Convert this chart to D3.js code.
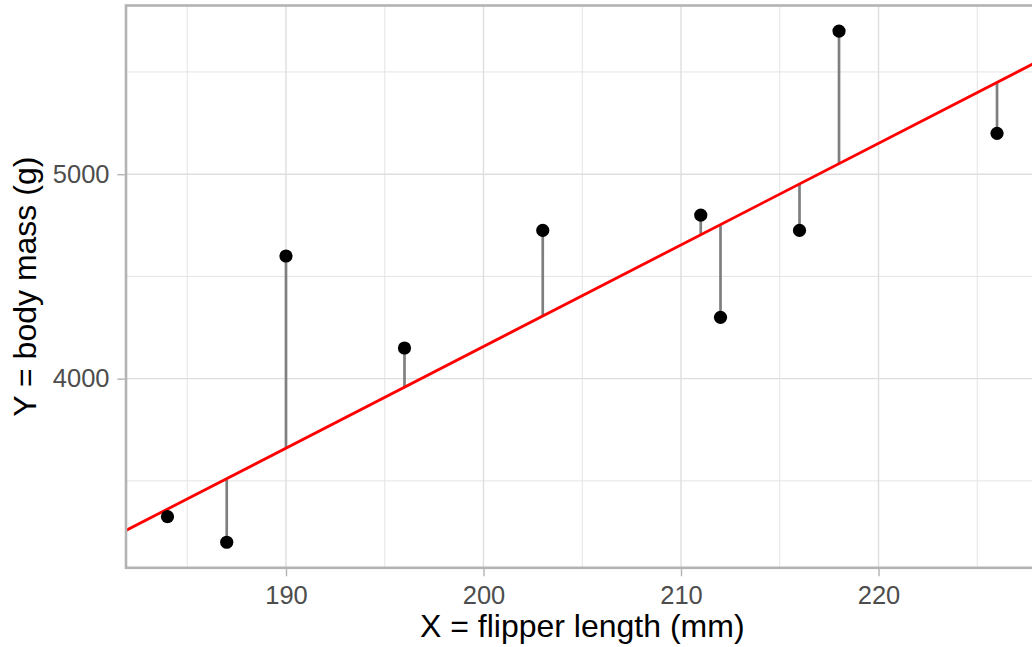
<!DOCTYPE html>
<html>
<head>
<meta charset="utf-8">
<script src="https://cdn.jsdelivr.net/npm/d3@7"></script>
<style>
  html, body { margin: 0; padding: 0; background: #ffffff; }
  svg { display: block; font-family: "Liberation Sans", Arial, Helvetica, sans-serif; }
</style>
</head>
<body>
<svg id="chart" width="1032" height="647"></svg>
<script>
// Penguin sample: flipper length (mm) vs body mass (g)
const flipperLength = [184, 187, 190, 196, 203, 211, 212, 216, 218, 226];
const bodyMass = [3325, 3200, 4600, 4150, 4725, 4800, 4300, 4725, 5700, 5200];

// Least-squares fit on the full penguin data: mass = a + b * flipper
const fitIntercept = -5780.83;
const fitSlope = 49.69;

const xMajorTicks = [190, 200, 210, 220];
const xMinorTicks = [185, 195, 205, 215, 225];
const yMajorTicks = [4000, 5000];
const yMinorTicks = [3500, 4500, 5500];

const xTitle = "X = flipper length (mm)";
const yTitle = "Y = body mass (g)";

const svg = d3.select("#chart");
const panel = { left: 126, right: 1038.5, top: 5.5, bottom: 567.8 };

// ggplot-style 5% expansion of the data ranges
const xExt = d3.extent(flipperLength), yExt = d3.extent(bodyMass);
const xPad = (xExt[1] - xExt[0]) * 0.05, yPad = (yExt[1] - yExt[0]) * 0.05;
const x = d3.scaleLinear().domain([xExt[0] - xPad, xExt[1] + xPad]).range([panel.left, panel.right]);
const y = d3.scaleLinear().domain([yExt[0] - yPad, yExt[1] + yPad]).range([panel.bottom, panel.top]);
const fitted = v => fitIntercept + fitSlope * v;

svg.append("defs").append("clipPath").attr("id", "panel-clip")
  .append("rect")
  .attr("x", panel.left).attr("y", panel.top)
  .attr("width", panel.right - panel.left).attr("height", panel.bottom - panel.top);

const grid = svg.append("g");
// minor grid
grid.selectAll("line.xminor").data(xMinorTicks).join("line")
  .attr("x1", d => x(d)).attr("x2", d => x(d))
  .attr("y1", panel.top).attr("y2", panel.bottom)
  .attr("stroke", "#e4e4e4").attr("stroke-width", 1);
grid.selectAll("line.yminor").data(yMinorTicks).join("line")
  .attr("y1", d => y(d)).attr("y2", d => y(d))
  .attr("x1", panel.left).attr("x2", panel.right)
  .attr("stroke", "#e4e4e4").attr("stroke-width", 1);
// major grid
grid.selectAll("line.xmajor").data(xMajorTicks).join("line")
  .attr("x1", d => x(d)).attr("x2", d => x(d))
  .attr("y1", panel.top).attr("y2", panel.bottom)
  .attr("stroke", "#dedede").attr("stroke-width", 1.4);
grid.selectAll("line.ymajor").data(yMajorTicks).join("line")
  .attr("y1", d => y(d)).attr("y2", d => y(d))
  .attr("x1", panel.left).attr("x2", panel.right)
  .attr("stroke", "#dedede").attr("stroke-width", 1.4);

const plot = svg.append("g").attr("clip-path", "url(#panel-clip)");

// residual segments from each observation to the fitted line
plot.selectAll("line.resid").data(flipperLength).join("line")
  .attr("x1", d => x(d)).attr("x2", d => x(d))
  .attr("y1", (d, i) => y(bodyMass[i]))
  .attr("y2", d => y(fitted(d)))
  .attr("stroke", "#7f7f7f").attr("stroke-width", 2.7);

// regression line across the panel
const xd = x.domain();
plot.append("line")
  .attr("x1", x(xd[0])).attr("y1", y(fitted(xd[0])))
  .attr("x2", x(xd[1])).attr("y2", y(fitted(xd[1])))
  .attr("stroke", "#ff0000").attr("stroke-width", 2.8);

// observations
plot.selectAll("circle").data(flipperLength).join("circle")
  .attr("cx", d => x(d)).attr("cy", (d, i) => y(bodyMass[i]))
  .attr("r", 6.6).attr("fill", "#000000");

// panel border (open at the right edge of the canvas)
svg.append("rect")
  .attr("x", panel.left).attr("y", panel.top)
  .attr("width", panel.right - panel.left).attr("height", panel.bottom - panel.top)
  .attr("fill", "none").attr("stroke", "#b3b3b3").attr("stroke-width", 2.6);

// x axis
const xAxis = svg.append("g").attr("transform", `translate(0,${panel.bottom})`)
  .call(d3.axisBottom(x).tickValues(xMajorTicks).tickSize(8.5).tickPadding(9.5).tickFormat(d3.format("d")));
xAxis.select(".domain").remove();
xAxis.selectAll(".tick line").attr("stroke", "#b3b3b3").attr("stroke-width", 1.4).attr("y1", 1.3);
xAxis.selectAll(".tick text").attr("fill", "#4d4d4d").attr("font-size", 25.5)
  .attr("font-family", "Liberation Sans, Arial, sans-serif");

// y axis
const yAxis = svg.append("g").attr("transform", `translate(${panel.left},0)`)
  .call(d3.axisLeft(y).tickValues(yMajorTicks).tickSize(8.5).tickPadding(8).tickFormat(d3.format("d")));
yAxis.select(".domain").remove();
yAxis.selectAll(".tick line").attr("stroke", "#b3b3b3").attr("stroke-width", 1.4).attr("x1", -1.3);
yAxis.selectAll(".tick text").attr("fill", "#4d4d4d").attr("font-size", 25.5)
  .attr("font-family", "Liberation Sans, Arial, sans-serif");

// axis titles
svg.append("text")
  .attr("x", (panel.left + panel.right) / 2).attr("y", 637)
  .attr("text-anchor", "middle").attr("font-size", 32).attr("fill", "#000000")
  .text(xTitle);
svg.append("text")
  .attr("transform", `translate(36,${(panel.top + panel.bottom) / 2}) rotate(-90)`)
  .attr("text-anchor", "middle").attr("font-size", 32).attr("fill", "#000000")
  .text(yTitle);
</script>
</body>
</html>
